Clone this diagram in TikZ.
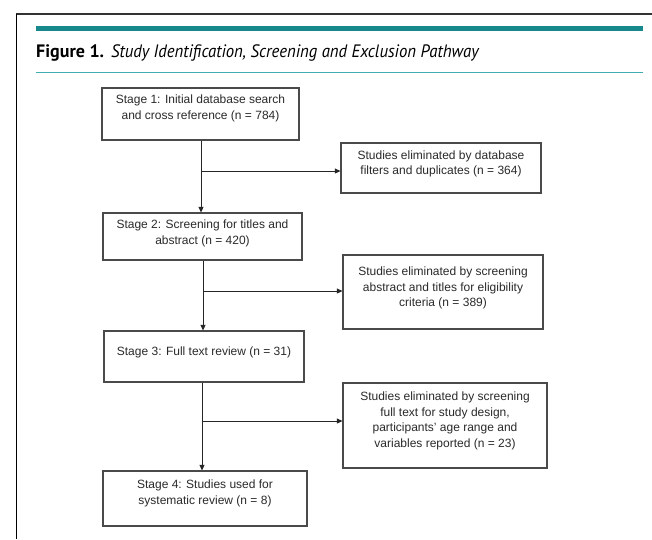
\documentclass[tikz,border=0pt]{standalone}
\usepackage{fontspec}
\setmainfont{Liberation Sans}
\newfontfamily\titlefont{PT Sans}
\usetikzlibrary{arrows.meta}
\definecolor{tealbar}{HTML}{17898C}
\definecolor{tealline}{HTML}{3FAEB3}
\definecolor{boxline}{HTML}{4A4A4A}
\definecolor{txt}{HTML}{2A2A2A}
\begin{document}
\begin{tikzpicture}[x=1pt,y=-1pt,
  box/.style={draw=boxline, line width=1.2pt, inner sep=0pt, fill=white},
  lbl/.style={font=\fontsize{12}{15.5}\selectfont, align=center, text=txt, inner sep=0pt},
  conn/.style={draw=black!85, line width=0.9pt},
  arr/.style={conn, -{Triangle[length=5.5pt,width=5pt]}}]
\useasboundingbox[fill=white] (0,0) rectangle (652,539);
% frame and header
\draw[line width=1.5pt, black!80] (16,14) -- (652,14);
\draw[line width=1pt, black] (16,14) -- (16,539);
\fill[tealbar] (36,25.5) rectangle (643,30.5);
\draw[tealline, line width=1pt] (36,72.5) -- (643,72.5);
\node[anchor=base west, inner sep=0pt, text=black] (title) at (36,57)
  {\titlefont\fontsize{18}{20}\selectfont\textbf{Figure 1.}\hspace{7pt}\scalebox{0.93}[1]{\textit{Study Identification, Screening and Exclusion Pathway}}};
% boxes
\node[box, minimum width=197pt, minimum height=52pt] (s1) at (200.5,114) {};
\node[box, minimum width=200pt, minimum height=50pt] (a) at (441,168) {};
\node[box, minimum width=199pt, minimum height=47pt] (s2) at (202.5,236.5) {};
\node[box, minimum width=200pt, minimum height=74pt] (b) at (443,292) {};
\node[box, minimum width=200pt, minimum height=51pt] (s3) at (204,356.5) {};
\node[box, minimum width=204pt, minimum height=85pt] (c) at (445,425.5) {};
\node[box, minimum width=204pt, minimum height=55pt] (s4) at (205,498.5) {};
% texts
\node[lbl] (t1) at (200.5,108.5) {Stage 1: Initial database search\\and cross reference (n = 784)};
\node[lbl] (ta) at (441,164) {Studies eliminated by database\\filters and duplicates (n = 364)};
\node[lbl] (t2) at (202.5,233.5) {Stage 2: Screening for titles and\\abstract (n = 420)};
\node[lbl] (tb) at (443,288) {Studies eliminated by screening\\abstract and titles for eligibility\\criteria (n = 389)};
\node[lbl] (t3) at (204,352) {Stage 3: Full text review (n = 31)};
\node[lbl] (tc) at (445,421) {Studies eliminated by screening\\full text for study design,\\participants’ age range and\\variables reported (n = 23)};
\node[lbl] (t4) at (205,493.5) {Stage 4: Studies used for\\systematic review (n = 8)};
% connectors
\coordinate (j1) at (201,171);
\coordinate (j2) at (203,291);
\coordinate (j3) at (202,421);
\draw[arr] (s1.south -| j1) -- (s2.north -| j1);
\draw[arr] (j1) -- (a.west |- j1);
\draw[arr] (s2.south -| j2) -- (s3.north -| j2);
\draw[arr] (j2) -- (b.west |- j2);
\draw[arr] (s3.south -| j3) -- (s4.north -| j3);
\draw[arr] (j3) -- (c.west |- j3);
\end{tikzpicture}
\end{document}
